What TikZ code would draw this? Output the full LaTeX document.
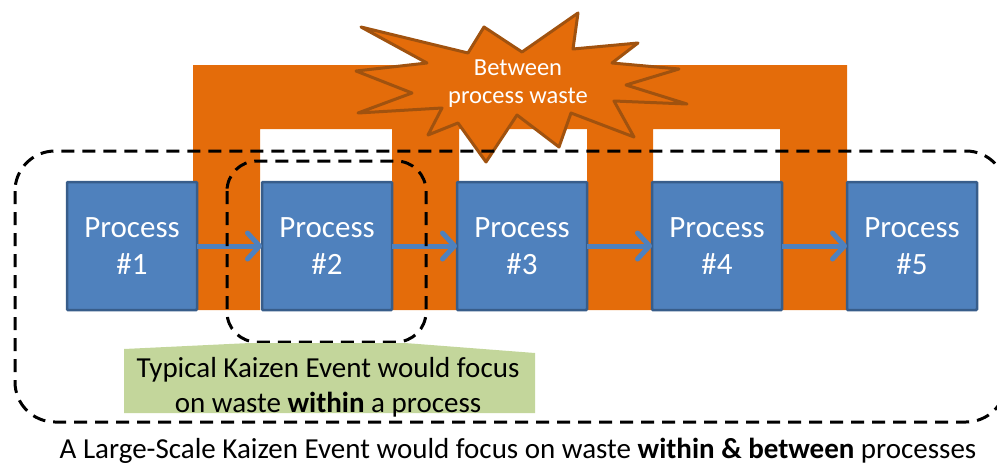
\documentclass[tikz,border=0pt]{standalone}
\usepackage{fontspec}
\setmainfont{Carlito}
\usetikzlibrary{arrows.meta,positioning}
\definecolor{kzblue}{HTML}{4F81BD}
\definecolor{kzbluedark}{HTML}{385D8A}
\definecolor{kzorange}{HTML}{E46C0A}
\definecolor{kzbrown}{HTML}{A0520F}
\definecolor{kzgreen}{HTML}{C3D69B}

\begin{document}
\begin{tikzpicture}[
  x=1pt, y=-1pt,
  node distance=65pt,
  proc/.style={draw=kzbluedark, line width=2.5pt, fill=kzblue, rounded corners=1pt, minimum width=130pt, minimum height=128pt, outer sep=0pt, text=white, align=center, font=\fontsize{31}{37}\selectfont},
  arr/.style={-{Straight Barb[round, length=12pt, width=26pt]}, line width=5pt, draw=kzblue},
  frame/.style={draw=black, line width=3pt, dash pattern=on 13pt off 8pt},
  note/.style={align=center, inner sep=0pt, font=\fontsize{29}{35}\selectfont}
]
\useasboundingbox (0,0) rectangle (997,466);
% waste between the processes
\fill[kzorange] (193,65) -- (847,65) -- (847,310) -- (780,310) -- (780,129) -- (653,129) -- (653,310) -- (587,310) -- (587,129) -- (459,129) -- (459,310) -- (392,310) -- (392,129) -- (260,129) -- (260,310) -- (193,310) -- cycle;
\draw[kzbrown, fill=kzorange, line width=3pt, line join=round] (361,27) -- (468,53) -- (484,27) -- (522,52) -- (578,13) -- (573,49) -- (638,43) -- (612,63) -- (679,69) -- (626,85) -- (687,104) -- (614,101) -- (634,137) -- (571,113) -- (559,147) -- (517,115) -- (486,162) -- (458,123) -- (428,135) -- (442,108) -- (358,113) -- (412,93) -- (356,71) -- (427,63) -- cycle;
\node[text=white, align=center, font=\fontsize{24.5}{28}\selectfont] (burst) at (518,84) {Between\\process waste};
% process chain
\node[proc] (p1) at (132,246) {Process\\\#1};
\node[proc, right=of p1] (p2) {Process\\\#2};
\node[proc, right=of p2] (p3) {Process\\\#3};
\node[proc, right=of p3] (p4) {Process\\\#4};
\node[proc, right=of p4] (p5) {Process\\\#5};
\draw[arr] (p1) -- (p2);
\draw[arr] (p2) -- (p3);
\draw[arr] (p3) -- (p4);
\draw[arr] (p4) -- (p5);
% scope frames
\draw[frame, rounded corners=40pt] (15,151) rectangle (1006,422);
\draw[frame, rounded corners=30pt] (227,161) rectangle (426,342);
% callout
\fill[kzgreen] (124,349) -- (250,343) -- (405,343) -- (535,353) -- (535,413) -- (124,413) -- cycle;
\node[note] (typical) at (328,387) {Typical Kaizen Event would focus\\on waste \textbf{within} a process};
\node[note, anchor=base] (large) at (518,458) {A Large-Scale Kaizen Event would focus on waste \textbf{within \& between} processes};
\end{tikzpicture}
\end{document}
